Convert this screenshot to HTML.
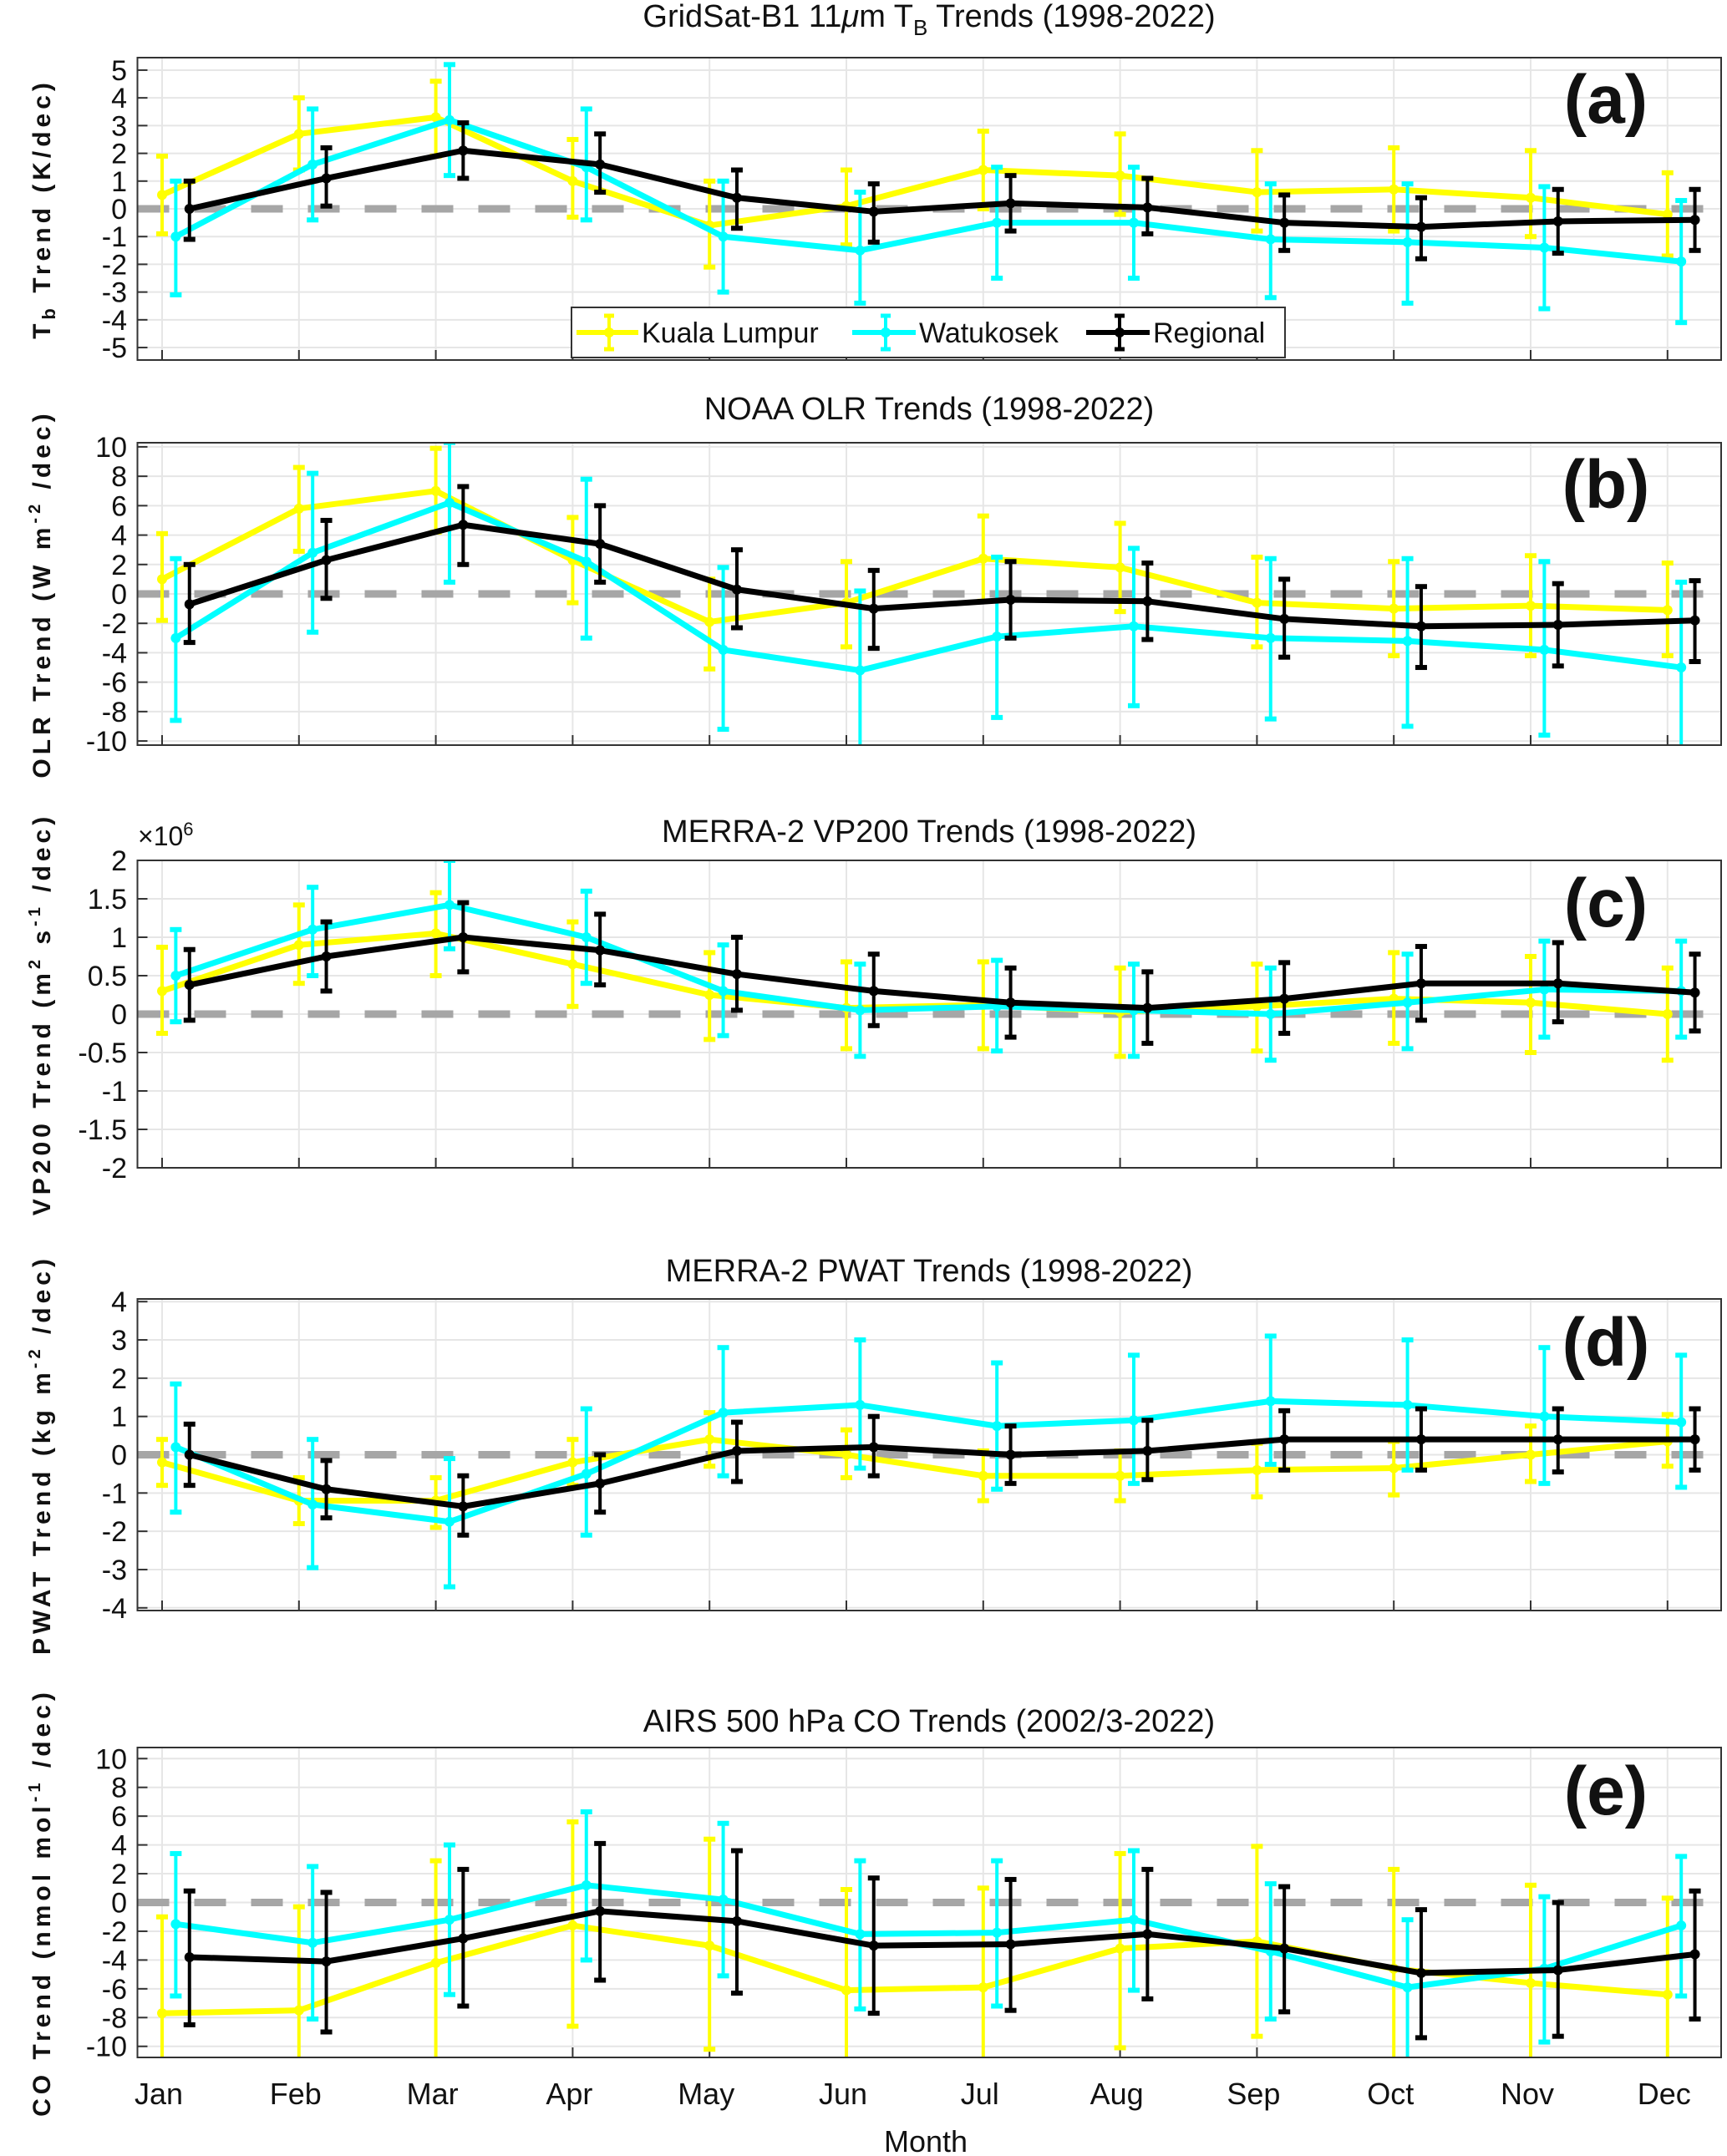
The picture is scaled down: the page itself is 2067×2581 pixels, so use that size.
<!DOCTYPE html>
<html><head><meta charset="utf-8"><style>
html,body{margin:0;padding:0;background:#fff}
svg{display:block}
text{font-family:"Liberation Sans Narrow","Liberation Sans",sans-serif;fill:#111}
.yl{font-family:"Liberation Sans",sans-serif;font-weight:bold;letter-spacing:5px}
.pl{font-family:"Liberation Sans",sans-serif;font-weight:bold}
</style></head><body>
<svg id="fig" width="2067" height="2581" viewBox="0 0 2067 2581" xmlns="http://www.w3.org/2000/svg"></svg>
<script>
const months=["Jan","Feb","Mar","Apr","May","Jun","Jul","Aug","Sep","Oct","Nov","Dec"];
// Panel a: Tb
const aKL=[0.5,2.7,3.3,1.0,-0.6,0.1,1.4,1.2,0.6,0.7,0.4,-0.2];
const aKLlo=[-0.9,1.4,1.9,-0.3,-2.1,-1.3,0,-0.2,-0.8,-0.8,-1.0,-1.7];
const aKLhi=[1.9,4.0,4.6,2.5,1.0,1.4,2.8,2.7,2.1,2.2,2.1,1.3];
const aWK=[-1.0,1.6,3.2,1.5,-1.0,-1.5,-0.5,-0.5,-1.1,-1.2,-1.4,-1.9];
const aWKlo=[-3.1,-0.4,1.2,-0.4,-3.0,-3.4,-2.5,-2.5,-3.2,-3.4,-3.6,-4.1];
const aWKhi=[1.0,3.6,5.2,3.6,1.0,0.6,1.5,1.5,0.9,0.9,0.8,0.3];
const aRG=[0,1.1,2.1,1.6,0.4,-0.1,0.2,0.05,-0.5,-0.65,-0.45,-0.4];
const aRGlo=[-1.1,0.1,1.1,0.6,-0.7,-1.2,-0.8,-0.9,-1.5,-1.8,-1.6,-1.5];
const aRGhi=[1.0,2.2,3.1,2.7,1.4,0.9,1.2,1.1,0.5,0.4,0.7,0.7];
const aTicks=[-5,-4,-3,-2,-1,0,1,2,3,4,5];
// Panel b: OLR
const bKL=[1.0,5.8,7.0,2.3,-1.9,-0.6,2.4,1.8,-0.6,-1.0,-0.8,-1.1];
const bKLlo=[-1.8,2.9,4.2,-0.6,-5.1,-3.6,-0.5,-1.2,-3.6,-4.2,-4.2,-4.2];
const bKLhi=[4.1,8.6,9.9,5.2,1.0,2.2,5.3,4.8,2.5,2.2,2.6,2.1];
const bWK=[-3.0,2.8,6.2,2.2,-3.8,-5.2,-2.9,-2.2,-3.0,-3.2,-3.8,-5.0];
const bWKlo=[-8.6,-2.6,0.8,-3.0,-9.2,-10.6,-8.4,-7.6,-8.5,-9.0,-9.6,-10.6];
const bWKhi=[2.4,8.2,10.3,7.8,1.8,0.2,2.5,3.1,2.4,2.4,2.2,0.8];
const bRG=[-0.7,2.3,4.7,3.4,0.3,-1.0,-0.4,-0.5,-1.7,-2.2,-2.1,-1.8];
const bRGlo=[-3.3,-0.3,2.0,0.8,-2.3,-3.7,-3.0,-3.1,-4.3,-5.0,-4.9,-4.6];
const bRGhi=[2.0,5.0,7.3,6.0,3.0,1.6,2.2,2.1,1.0,0.5,0.7,0.9];
const bTicks=[-10,-8,-6,-4,-2,0,2,4,6,8,10];
// Panel c: VP200 (x1e6)
const cKL=[0.3,0.9,1.05,0.65,0.25,0.08,0.12,0.03,0.1,0.2,0.15,0.0];
const cKLlo=[-0.25,0.4,0.5,0.1,-0.33,-0.45,-0.45,-0.55,-0.48,-0.38,-0.5,-0.6];
const cKLhi=[0.87,1.42,1.58,1.2,0.8,0.68,0.68,0.6,0.65,0.8,0.75,0.6];
const cWK=[0.5,1.1,1.42,1.0,0.3,0.05,0.1,0.05,0.0,0.15,0.32,0.3];
const cWKlo=[-0.1,0.5,0.85,0.4,-0.28,-0.55,-0.48,-0.55,-0.6,-0.45,-0.3,-0.3];
const cWKhi=[1.1,1.65,2.0,1.6,0.9,0.65,0.7,0.65,0.6,0.78,0.95,0.95];
const cRG=[0.38,0.75,1.0,0.83,0.52,0.3,0.15,0.08,0.2,0.4,0.4,0.28];
const cRGlo=[-0.08,0.3,0.55,0.38,0.05,-0.15,-0.3,-0.38,-0.25,-0.08,-0.1,-0.22];
const cRGhi=[0.84,1.2,1.45,1.3,1.0,0.78,0.6,0.55,0.67,0.88,0.93,0.78];
const cTicks=[-2,-1.5,-1,-0.5,0,0.5,1,1.5,2];
// Panel d: PWAT
const dKL=[-0.2,-1.2,-1.2,-0.2,0.4,0.0,-0.55,-0.55,-0.4,-0.35,0.0,0.35];
const dKLlo=[-0.8,-1.8,-1.9,-0.8,-0.3,-0.6,-1.2,-1.2,-1.1,-1.05,-0.7,-0.3];
const dKLhi=[0.4,-0.6,-0.6,0.4,1.1,0.65,0.1,0.1,0.3,0.35,0.75,1.05];
const dWK=[0.2,-1.3,-1.75,-0.5,1.1,1.3,0.75,0.9,1.4,1.3,1.0,0.85];
const dWKlo=[-1.5,-2.95,-3.45,-2.1,-0.55,-0.35,-0.9,-0.75,-0.25,-0.4,-0.75,-0.85];
const dWKhi=[1.85,0.4,-0.1,1.2,2.8,3.0,2.4,2.6,3.1,3.0,2.8,2.6];
const dRG=[0,-0.9,-1.35,-0.75,0.1,0.2,0,0.1,0.4,0.4,0.4,0.4];
const dRGlo=[-0.8,-1.65,-2.1,-1.5,-0.7,-0.55,-0.75,-0.65,-0.4,-0.4,-0.45,-0.4];
const dRGhi=[0.8,-0.15,-0.55,0.0,0.85,1.0,0.75,0.9,1.15,1.2,1.2,1.2];
const dTicks=[-4,-3,-2,-1,0,1,2,3,4];
// Panel e: CO
const eKL=[-7.7,-7.5,-4.2,-1.6,-3.0,-6.1,-5.9,-3.2,-2.7,-4.6,-5.6,-6.4];
const eKLlo=[-11,-11,-11,-8.6,-10.2,-11,-11,-10.1,-9.3,-11,-11,-11];
const eKLhi=[-1.0,-0.3,2.9,5.6,4.4,0.9,1.0,3.4,3.9,2.3,1.2,0.3];
const eWK=[-1.5,-2.8,-1.2,1.2,0.2,-2.2,-2.1,-1.2,-3.4,-5.9,-4.6,-1.6];
const eWKlo=[-6.5,-8.1,-6.4,-4.0,-5.1,-7.4,-7.2,-6.1,-8.1,-11,-9.7,-6.5];
const eWKhi=[3.4,2.5,4.0,6.3,5.5,2.9,2.9,3.6,1.3,-1.2,0.4,3.2];
const eRG=[-3.8,-4.1,-2.5,-0.6,-1.3,-3.0,-2.9,-2.2,-3.2,-4.9,-4.7,-3.6];
const eRGlo=[-8.5,-9.0,-7.2,-5.4,-6.3,-7.7,-7.5,-6.7,-7.6,-9.4,-9.3,-8.1];
const eRGhi=[0.8,0.7,2.3,4.1,3.6,1.7,1.6,2.3,1.1,-0.5,0.0,0.8];
const eTicks=[-10,-8,-6,-4,-2,0,2,4,6,8,10];

const NS="http://www.w3.org/2000/svg";
const svg=document.getElementById('fig');
function el(tag,attrs,parent){const e=document.createElementNS(NS,tag);for(const k in attrs)e.setAttribute(k,attrs[k]);(parent||svg).appendChild(e);return e;}
const X0=164.5,X1=2060;
function xm(m){return 194+163.8*(m-1);}
const KLc="#ffff00",WKc="#00ffff",RGc="#000000";

function panel(id,top,bot,ymin,ymax,ticks,series,title,titleY,label,ylab){
  const g=el('g',{});
  
  
  const ym=v=>bot-(v-ymin)/(ymax-ymin)*(bot-top);
  const cp=el('clipPath',{id:'clip'+id},g);
  el('rect',{x:X0,y:top,width:X1-X0,height:bot-top},cp);
  el('rect',{x:X0,y:top,width:X1-X0,height:bot-top,fill:'#fff'},g);
  const grid=el('g',{stroke:'#e6e6e6','stroke-width':2},g);
  
  
  for(let i=0;i<12;i++)el('line',{x1:xm(i+1),x2:xm(i+1),y1:top,y2:bot},grid);
  ticks.forEach(t=>el('line',{x1:X0,x2:X1,y1:ym(t),y2:ym(t)},grid));
  ticks.forEach(t=>{
    el('line',{x1:X0,x2:X0+12,y1:ym(t),y2:ym(t),stroke:'#333','stroke-width':2},g);
    const tx=el('text',{x:152,y:ym(t)+12,'text-anchor':'end','font-size':34},g);
    tx.textContent=String(t);
    
    
  });
  for(let i=0;i<12;i++)el('line',{x1:xm(i+1),x2:xm(i+1),y1:bot,y2:bot-12,stroke:'#333','stroke-width':2},g);
  const z=el('line',{x1:X0,x2:X1,y1:ym(0),y2:ym(0),stroke:'#a6a6a6','stroke-width':9,'stroke-dasharray':'38 30'},g);
  
  
  const sg=el('g',{'clip-path':'url(#clip'+id+')'},g);
  series.forEach(s=>{
    const grp=el('g',{},sg);
    
    
    const pts=s.v.map((v,i)=>xm(i+1+s.off)+','+ym(v)).join(' ');
    el('polyline',{points:pts,fill:'none',stroke:s.c,'stroke-width':s.w,'stroke-linejoin':'round'},grp);
    s.v.forEach((v,i)=>{
      const x=xm(i+1+s.off);
      const eb=el('g',{stroke:s.c,'stroke-width':4},grp);
      
      
      el('line',{x1:x,x2:x,y1:ym(s.lo[i]),y2:ym(s.hi[i])},eb);
      el('line',{x1:x-7,x2:x+7,y1:ym(s.lo[i]),y2:ym(s.lo[i]),'stroke-width':6},eb);
      el('line',{x1:x-7,x2:x+7,y1:ym(s.hi[i]),y2:ym(s.hi[i]),'stroke-width':6},eb);
      const pt=el('circle',{cx:x,cy:ym(v),r:6,fill:s.c},grp);
      
      
    });
  });
  el('rect',{x:X0,y:top,width:X1-X0,height:bot-top,fill:'none',stroke:'#333','stroke-width':2},g);
  const tt=el('text',{x:1112,y:titleY,'text-anchor':'middle','font-size':38},g);
  tt.innerHTML=title;
  
  
  const pl=el('text',{x:1922,y:top+(bot-top)*0.215,'text-anchor':'middle','font-size':82,class:'pl'},g);
  pl.textContent=label;
  
  
  const cy=(top+bot)/2;
  const yl=el('text',{x:60,y:cy,'text-anchor':'middle','font-size':30,class:'yl',transform:'rotate(-90 60 '+cy+')'},g);
  yl.innerHTML=ylab;
  
  
  return g;
}
function S(name,v,lo,hi,c,off,w){return {name,v,lo,hi,c,off,w};}

panel('a',69,431,-5.45,5.45,aTicks,[S('kuala-lumpur',aKL,aKLlo,aKLhi,KLc,0,7),S('watukosek',aWK,aWKlo,aWKhi,WKc,0.1,7),S('regional',aRG,aRGlo,aRGhi,RGc,0.2,7)],
 'GridSat-B1 11<tspan font-style="italic">μ</tspan>m T<tspan font-size="26" dy="10">B</tspan><tspan dy="-10"> Trends (1998-2022)</tspan>',32,'(a)',
 'T<tspan font-size="22" dy="6">b</tspan><tspan dy="-6"> Trend (K/dec)</tspan>');
panel('b',530,892,-10.28,10.28,bTicks,[S('kuala-lumpur',bKL,bKLlo,bKLhi,KLc,0,7),S('watukosek',bWK,bWKlo,bWKhi,WKc,0.1,7),S('regional',bRG,bRGlo,bRGhi,RGc,0.2,7)],
 'NOAA OLR Trends (1998-2022)',502,'(b)','OLR Trend (W m<tspan font-size="20" dy="-12">-2</tspan><tspan dy="12"> /dec)</tspan>');
panel('c',1030,1398,-2,2,cTicks,[S('kuala-lumpur',cKL,cKLlo,cKLhi,KLc,0,7),S('watukosek',cWK,cWKlo,cWKhi,WKc,0.1,7),S('regional',cRG,cRGlo,cRGhi,RGc,0.2,7)],
 'MERRA-2 VP200 Trends (1998-2022)',1008,'(c)','VP200 Trend (m<tspan font-size="20" dy="-12">2</tspan><tspan dy="12"> s</tspan><tspan font-size="20" dy="-12">-1</tspan><tspan dy="12"> /dec)</tspan>');
panel('d',1555,1928,-4.07,4.07,dTicks,[S('kuala-lumpur',dKL,dKLlo,dKLhi,KLc,0,7),S('watukosek',dWK,dWKlo,dWKhi,WKc,0.1,7),S('regional',dRG,dRGlo,dRGhi,RGc,0.2,7)],
 'MERRA-2 PWAT Trends (1998-2022)',1534,'(d)','PWAT Trend (kg m<tspan font-size="20" dy="-12">-2</tspan><tspan dy="12"> /dec)</tspan>');
panel('e',2092,2463,-10.77,10.77,eTicks,[S('kuala-lumpur',eKL,eKLlo,eKLhi,KLc,0,7),S('watukosek',eWK,eWKlo,eWKhi,WKc,0.1,7),S('regional',eRG,eRGlo,eRGhi,RGc,0.2,7)],
 'AIRS 500 hPa CO Trends (2002/3-2022)',2073,'(e)','CO Trend (nmol mol<tspan font-size="20" dy="-12">-1</tspan><tspan dy="12"> /dec)</tspan>');

const ex=el('text',{x:165,y:1012,'font-size':32});
ex.innerHTML='×10<tspan font-size="22" dy="-12">6</tspan>';


months.forEach((m,i)=>{
  const t=el('text',{x:xm(i+1)-4,y:2519,'text-anchor':'middle','font-size':36});
  t.textContent=m;
  
  
});
const xt=el('text',{x:1108,y:2576,'text-anchor':'middle','font-size':36});
xt.textContent='Month';



const lg=el('g',{});


el('rect',{x:684,y:368,width:854,height:60,fill:'#fff',stroke:'#333','stroke-width':2},lg);
[[KLc,'Kuala Lumpur',690,768],[WKc,'Watukosek',1020,1100],[RGc,'Regional',1300,1380]].forEach(([c,n,x1,x2])=>{
  const e=el('g',{},lg);
  
  
  const mx=(x1+x2)/2;
  el('line',{x1:x1,x2:x2-4,y1:398,y2:398,stroke:c,'stroke-width':6},e);
  el('line',{x1:mx,x2:mx,y1:378,y2:418,stroke:c,'stroke-width':4},e);
  el('line',{x1:mx-6,x2:mx+6,y1:378,y2:378,stroke:c,'stroke-width':5},e);
  el('line',{x1:mx-6,x2:mx+6,y1:418,y2:418,stroke:c,'stroke-width':5},e);
  el('circle',{cx:mx,cy:398,r:6,fill:c},e);
  const t=el('text',{x:x2,y:410,'font-size':34},e);
  t.textContent=n;
});
</script>
</body></html>
